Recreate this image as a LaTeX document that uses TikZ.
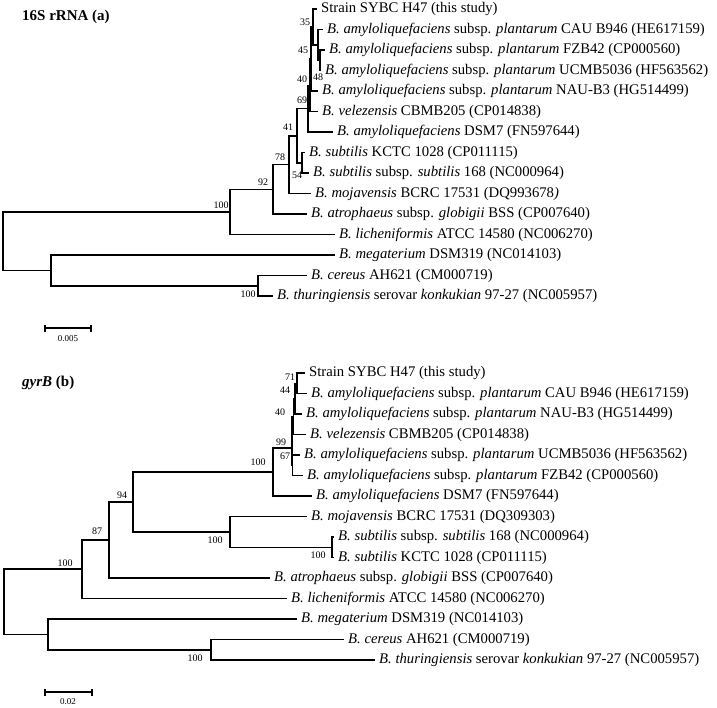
\documentclass[tikz,border=0pt]{standalone}
\usepackage{fontspec}
\setmainfont{Liberation Serif}
\usetikzlibrary{positioning}
\newcommand{\bamy}{\textit{B. amyloliquefaciens}}
\newcommand{\bplant}{\bamy{} subsp. \textit{plantarum}}

\begin{document}
\begin{tikzpicture}[x=1pt, y=-1pt,
    br/.style={line width=1.6pt},
    taxon/.style={inner sep=0pt, font=\fontsize{14.7}{16}\selectfont},
    bs/.style={inner sep=0pt, font=\fontsize{10}{11}\selectfont},
    ttl/.style={inner sep=0pt, anchor=west, font=\fontsize{15}{17}\selectfont\bfseries},
    sbar/.style={line width=1.4pt}]
  \useasboundingbox (0,0) rectangle (717,707);
  %--- 16S rRNA tree: leaves
  \coordinate (a1)  at (317,9);      \coordinate (a2)  at (323,29.5);
  \coordinate (a3)  at (325,50);     \coordinate (a4)  at (321,70.5);
  \coordinate (a5)  at (318,91);     \coordinate (a6)  at (318,111.5);
  \coordinate (a7)  at (333,132);    \coordinate (a8)  at (305,152.5);
  \coordinate (a9)  at (309,173);    \coordinate (a10) at (311,193.5);
  \coordinate (a11) at (307,214);    \coordinate (a12) at (335,234.5);
  \coordinate (a13) at (335,255);    \coordinate (a14) at (307,275.5);
  \coordinate (a15) at (273,296);
  %--- 16S rRNA tree: inner nodes
  \coordinate (a48)  at (320,60.3);  \coordinate (aW)   at (318,44.9);
  \coordinate (a35)  at (313,27);    \coordinate (a45)  at (311,59);
  \coordinate (a40)  at (310,85.3);  \coordinate (a69)  at (308,108.6);
  \coordinate (a54)  at (302,162.8); \coordinate (a41)  at (297,135.7);
  \coordinate (a78)  at (289,164.6); \coordinate (a92)  at (273,189.3);
  \coordinate (a100) at (230,211.9); \coordinate (aT)   at (258,285.8);
  \coordinate (aM)   at (51,270.4);  \coordinate (aR)   at (3,241.1);
  %--- 16S rRNA tree: branches
  \draw[br] (aR) |- (a100) (aR) |- (aM);
  \draw[br] (a100) |- (a92) (a100) |- (a12);
  \draw[br] (a92) |- (a78) (a92) |- (a11);
  \draw[br] (a78) |- (a41) (a78) |- (a10);
  \draw[br] (a41) |- (a69) (a41) |- (a54);
  \draw[br] (a54) |- (a8) (a54) |- (a9);
  \draw[br] (a69) |- (a40) (a69) |- (a7);
  \draw[br] (a40) |- (a45) (a40) |- (a6);
  \draw[br] (a45) |- (a35) (a45) |- (a5);
  \draw[br] (a35) |- (a1) (a35) |- (aW);
  \draw[br] (aW) |- (a2) (aW) |- (a48);
  \draw[br] (a48) |- (a3) (a48) |- (a4);
  \draw[br] (aM) |- (a13) (aM) |- (aT);
  \draw[br] (aT) |- (a14) (aT) |- (a15);
  %--- 16S rRNA tree: taxa
  \node[taxon, right=4pt of a1]  (ta1)  {Strain SYBC H47 (this study)};
  \node[taxon, right=4pt of a2]  (ta2)  {\bplant{} CAU B946 (HE617159)};
  \node[taxon, right=4pt of a3]  (ta3)  {\bplant{} FZB42 (CP000560)};
  \node[taxon, right=4pt of a4]  (ta4)  {\bplant{} UCMB5036 (HF563562)};
  \node[taxon, right=4pt of a5]  (ta5)  {\bplant{} NAU-B3 (HG514499)};
  \node[taxon, right=4pt of a6]  (ta6)  {\textit{B. velezensis} CBMB205 (CP014838)};
  \node[taxon, right=4pt of a7]  (ta7)  {\bamy{} DSM7 (FN597644)};
  \node[taxon, right=4pt of a8]  (ta8)  {\textit{B. subtilis} KCTC 1028 (CP011115)};
  \node[taxon, right=4pt of a9]  (ta9)  {\textit{B. subtilis} subsp. \textit{subtilis} 168 (NC000964)};
  \node[taxon, right=4pt of a10] (ta10) {\textit{B. mojavensis} BCRC 17531 (DQ993678\textit{)}};
  \node[taxon, right=4pt of a11] (ta11) {\textit{B. atrophaeus} subsp. \textit{globigii} BSS (CP007640)};
  \node[taxon, right=4pt of a12] (ta12) {\textit{B. licheniformis} ATCC 14580 (NC006270)};
  \node[taxon, right=4pt of a13] (ta13) {\textit{B. megaterium} DSM319 (NC014103)};
  \node[taxon, right=4pt of a14] (ta14) {\textit{B. cereus} AH621 (CM000719)};
  \node[taxon, right=4pt of a15] (ta15) {\textit{B. thuringiensis} serovar \textit{konkukian} 97-27 (NC005957)};
  %--- 16S rRNA tree: bootstrap values
  \node[bs] (ba35)  at (305,22)  {35};
  \node[bs] (ba45)  at (303,50)  {45};
  \node[bs] (ba48)  at (318,77)  {48};
  \node[bs] (ba40)  at (302,79)  {40};
  \node[bs] (ba69)  at (302,100) {69};
  \node[bs] (ba41)  at (288,127) {41};
  \node[bs] (ba78)  at (280,157) {78};
  \node[bs] (ba54)  at (297,175) {54};
  \node[bs] (ba92)  at (263,182) {92};
  \node[bs] (ba100) at (221,205) {100};
  \node[bs] (baT)   at (248,294) {100};
  %--- 16S rRNA tree: title and scale
  \node[ttl] (tta) at (22,17) {16S rRNA (a)};
  \coordinate (sa1) at (45,328); \coordinate (sa2) at (91,328);
  \draw[sbar] (sa1) -- (sa2);
  \draw[sbar] ([yshift=-3.5pt]sa1) -- ([yshift=3.5pt]sa1);
  \draw[sbar] ([yshift=-3.5pt]sa2) -- ([yshift=3.5pt]sa2);
  \node[bs, font=\fontsize{9}{10}\selectfont] (sla) at (68,339) {0.005};

  %--- gyrB tree: leaves
  \coordinate (b1)  at (305,373);    \coordinate (b2)  at (307,393.5);
  \coordinate (b3)  at (302,414);    \coordinate (b4)  at (306,434.5);
  \coordinate (b5)  at (300,455);    \coordinate (b6)  at (303,475.5);
  \coordinate (b7)  at (312,496);    \coordinate (b8)  at (307,516.5);
  \coordinate (b9)  at (334,537);    \coordinate (b10) at (334,557.5);
  \coordinate (b11) at (270,578);    \coordinate (b12) at (287,598.5);
  \coordinate (b13) at (297,619);    \coordinate (b14) at (344,639.5);
  \coordinate (b15) at (375,660);
  %--- gyrB tree: inner nodes
  \coordinate (b71)  at (297,383.3); \coordinate (b44)  at (295,398.6);
  \coordinate (b40)  at (293.5,416.5); \coordinate (b67) at (292.5,465.3);
  \coordinate (b99)  at (292,448);   \coordinate (b100) at (273,472);
  \coordinate (bS)   at (332,547.3); \coordinate (bMj)  at (230,532);
  \coordinate (b94)  at (133,502);   \coordinate (b87)  at (109,540);
  \coordinate (bL)   at (82,569);    \coordinate (bT)   at (211,649.8);
  \coordinate (bM)   at (48,634.4);  \coordinate (bR)   at (4,601.7);
  %--- gyrB tree: branches
  \draw[br] (bR) |- (bL) (bR) |- (bM);
  \draw[br] (bL) |- (b87) (bL) |- (b12);
  \draw[br] (b87) |- (b94) (b87) |- (b11);
  \draw[br] (b94) |- (b100) (b94) |- (bMj);
  \draw[br] (bMj) |- (b8) (bMj) |- (bS);
  \draw[br] (bS) |- (b9) (bS) |- (b10);
  \draw[br] (b100) |- (b99) (b100) |- (b7);
  \draw[br] (b99) |- (b40) (b99) |- (b67);
  \draw[br] (b67) |- (b5) (b67) |- (b6);
  \draw[br] (b40) |- (b44) (b40) |- (b4);
  \draw[br] (b44) |- (b71) (b44) |- (b3);
  \draw[br] (b71) |- (b1) (b71) |- (b2);
  \draw[br] (bM) |- (b13) (bM) |- (bT);
  \draw[br] (bT) |- (b14) (bT) |- (b15);
  %--- gyrB tree: taxa
  \node[taxon, right=4pt of b1]  (tb1)  {Strain SYBC H47 (this study)};
  \node[taxon, right=4pt of b2]  (tb2)  {\bplant{} CAU B946 (HE617159)};
  \node[taxon, right=4pt of b3]  (tb3)  {\bplant{} NAU-B3 (HG514499)};
  \node[taxon, right=4pt of b4]  (tb4)  {\textit{B. velezensis} CBMB205 (CP014838)};
  \node[taxon, right=4pt of b5]  (tb5)  {\bplant{} UCMB5036 (HF563562)};
  \node[taxon, right=4pt of b6]  (tb6)  {\bplant{} FZB42 (CP000560)};
  \node[taxon, right=4pt of b7]  (tb7)  {\bamy{} DSM7 (FN597644)};
  \node[taxon, right=4pt of b8]  (tb8)  {\textit{B. mojavensis} BCRC 17531 (DQ309303)};
  \node[taxon, right=4pt of b9]  (tb9)  {\textit{B. subtilis} subsp. \textit{subtilis} 168 (NC000964)};
  \node[taxon, right=4pt of b10] (tb10) {\textit{B. subtilis} KCTC 1028 (CP011115)};
  \node[taxon, right=4pt of b11] (tb11) {\textit{B. atrophaeus} subsp. \textit{globigii} BSS (CP007640)};
  \node[taxon, right=4pt of b12] (tb12) {\textit{B. licheniformis} ATCC 14580 (NC006270)};
  \node[taxon, right=4pt of b13] (tb13) {\textit{B. megaterium} DSM319 (NC014103)};
  \node[taxon, right=4pt of b14] (tb14) {\textit{B. cereus} AH621 (CM000719)};
  \node[taxon, right=4pt of b15] (tb15) {\textit{B. thuringiensis} serovar \textit{konkukian} 97-27 (NC005957)};
  %--- gyrB tree: bootstrap values
  \node[bs] (bb71)  at (290,377) {71};
  \node[bs] (bb44)  at (285,390) {44};
  \node[bs] (bb40)  at (280,412) {40};
  \node[bs] (bb99)  at (281,442) {99};
  \node[bs] (bb67)  at (285,456) {67};
  \node[bs] (bb100) at (258,462) {100};
  \node[bs] (bb94)  at (122,495) {94};
  \node[bs] (bb87)  at (97,531)  {87};
  \node[bs] (bbMj)  at (215,540) {100};
  \node[bs] (bbS)   at (318,555) {100};
  \node[bs] (bbL)   at (65,563)  {100};
  \node[bs] (bbT)   at (195,658) {100};
  %--- gyrB tree: title and scale
  \node[ttl] (ttb) at (22,383) {\textit{gyrB} (b)};
  \coordinate (sb1) at (45,692); \coordinate (sb2) at (92,692);
  \draw[sbar] (sb1) -- (sb2);
  \draw[sbar] ([yshift=-3.5pt]sb1) -- ([yshift=3.5pt]sb1);
  \draw[sbar] ([yshift=-3.5pt]sb2) -- ([yshift=3.5pt]sb2);
  \node[bs, font=\fontsize{9}{10}\selectfont] (slb) at (68,702) {0.02};
\end{tikzpicture}
\end{document}
